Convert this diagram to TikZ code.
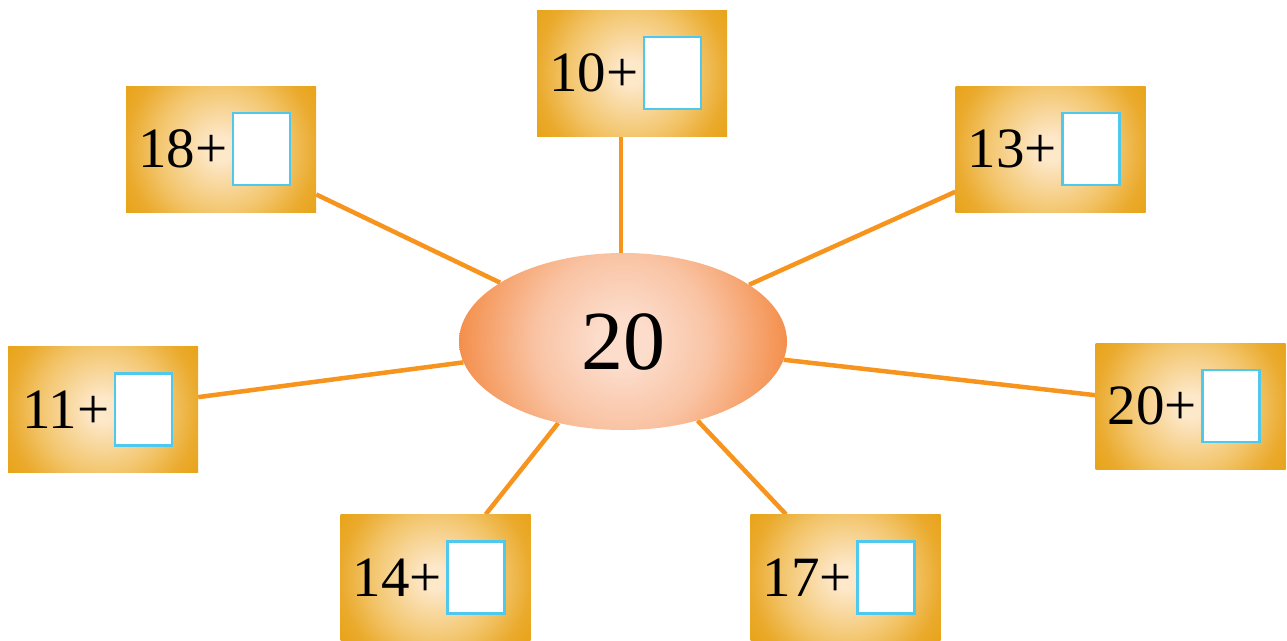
\documentclass[tikz,border=0pt]{standalone}
\usepackage{fontspec}
\setmainfont{Liberation Serif}
\usetikzlibrary{shapes.geometric,calc}
\definecolor{boxin}{HTML}{FDE8CA}
\definecolor{boxa}{HTML}{F3C66E}
\definecolor{boxb}{HTML}{EAAA2C}
\definecolor{boxout}{HTML}{E8A318}
\definecolor{ellin}{HTML}{FCDCCB}
\definecolor{ella}{HTML}{F9C3A3}
\definecolor{ellout}{HTML}{F48F4C}
\definecolor{linecol}{HTML}{F7941D}
\definecolor{sqcol}{HTML}{4FC8EE}
% TikZ maps the shaded path's bounding box onto the central 50bp of the shading: the circle edge is at 25bp
\pgfdeclareradialshading{boxshade}{\pgfpoint{0bp}{0bp}}{color(0bp)=(boxin); color(2.5bp)=(boxin); color(13.7bp)=(boxa); color(20.7bp)=(boxb); color(25bp)=(boxout); color(50bp)=(boxout)}
\pgfdeclareradialshading{ellshade}{\pgfpoint{0bp}{0bp}}{color(0bp)=(ellin); color(4bp)=(ellin); color(13.4bp)=(ella); color(25bp)=(ellout); color(50bp)=(ellout)}
\pgfdeclarelayer{bg}
\pgfsetlayers{bg,main}
\tikzset{
  box/.style={rectangle, minimum width=190pt, minimum height=126pt, inner sep=0pt,
    path picture={\shade[shading=boxshade] (path picture bounding box.center) circle (115pt);}},
  ell/.style={ellipse, minimum width=328pt, minimum height=177pt, inner sep=0pt, font=\fontsize{84}{90}\selectfont,
    path picture={\shade[shading=ellshade] (path picture bounding box.center) circle (164pt);}},
  sq/.style={rectangle, draw=sqcol, line width=2.5pt, fill=white, minimum width=57pt, minimum height=72pt, inner sep=0pt, anchor=north west},
  lbl/.style={inner sep=0pt, anchor=base east, font=\fontsize{57}{63}\selectfont},
  conn/.style={draw=linecol, line width=4.5pt}
}
\begin{document}
\begin{tikzpicture}[x=1pt,y=-1pt]
\useasboundingbox (0,0) rectangle (1287,640);
\node[ell] (c) at (623,341.5) {20};
\node[box] (b10) at (632,73) {};
\node[box] (b18) at (221,149) {};
\node[box] (b13) at (1050.5,149) {};
\node[box] (b11) at (103,409.5) {};
\node[box] (b20) at (1190.5,406) {};
\node[box] (b14) at (435.5,577.5) {};
\node[box] (b17) at (845.5,577.5) {};
\foreach \n/\t in {b10/10+,b18/18+,b13/13+,b11/11+,b20/20+,b14/14+,b17/17+}{
  \node[sq] (s\n) at ($(\n.north west)+(106,26)$) {};
  \node[lbl] (t\n) at ($(\n.north west)+(102,82)$) {\t};
}
\begin{pgfonlayer}{bg}
\path[conn] ($(c.north)+(-2,2)$) -- ($(c.north |- b10.south)+(-2,0)$);
\path[conn] (b18) -- (c);
\path[conn] (b13) -- (c);
\path[conn] (b11) -- (c);
\path[conn] (b20) -- (c);
\path[conn] (b14) -- (c);
\path[conn] (b17) -- (c);
\end{pgfonlayer}
\end{tikzpicture}
\end{document}
